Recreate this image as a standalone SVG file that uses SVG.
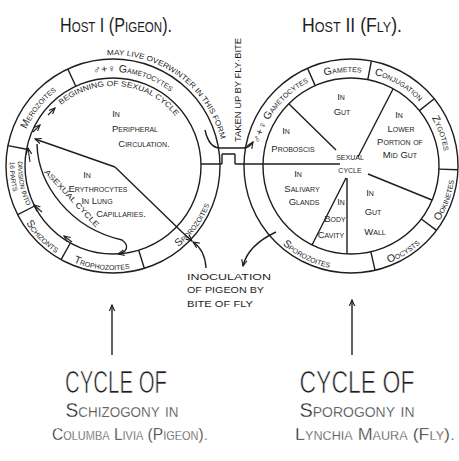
<svg xmlns="http://www.w3.org/2000/svg" width="459" height="461" viewBox="0 0 459 461">
<defs>
<style>
.ln{fill:none;stroke:#1e1e1e;stroke-width:1.4}
.th{fill:none;stroke:#1e1e1e;stroke-width:1.1}
text{font-family:"Liberation Sans",Arial,sans-serif;fill:#1e1e1e}
.sc{font-variant:small-caps}
.ring{font-size:10.5px;font-variant:small-caps}
.lab{font-size:9.5px;font-variant:small-caps;text-anchor:middle}
.big{font-size:31px;text-anchor:middle}
.thin{stroke:#fff;stroke-width:0.7px}
.thin2{stroke:#fff;stroke-width:0.35px}
</style>
<marker id="ah" viewBox="0 0 10 10" refX="9" refY="5" markerWidth="7" markerHeight="7" orient="auto" markerUnits="userSpaceOnUse">
<path d="M0,1 L9,5 L0,9" fill="none" stroke="#1e1e1e" stroke-width="1.6"/>
</marker>
<path id="pMero" d="M 20.4 149.7 A 94 94 0 0 1 74.8 80.1"/>
<path id="pGamL" d="M 73.3 80.8 A 94 94 0 0 1 186.0 106.8"/>
<path id="pWint" d="M 97.5 56.1 A 111 111 0 0 1 222.6 148.6"/>
<path id="pBeg" d="M 56.4 109.4 A 80 80 0 0 1 179.3 121.3"/>
<path id="pDiv1" d="M 21.2 141.4 A 95 95 0 0 0 37.1 223.2"/>
<path id="pDiv2" d="M 16.2 130.8 A 103 103 0 0 0 25.7 220.6"/>
<path id="pSchi" d="M 15.3 201.6 A 104 104 0 0 0 77.4 263.7"/>
<path id="pTrop" d="M 61 256.1 A 104 104 0 0 0 143.4 265.5"/>
<path id="pSpoL" d="M 148.6 263.7 A 104 104 0 0 0 216.9 171.4"/>
<path id="pGamR" d="M 258.4 149.7 A 94 94 0 0 1 314.3 79.5"/>
<path id="pGmts" d="M 314.3 79.5 A 94 94 0 0 1 372.1 74.4"/>
<path id="pConj" d="M 367.3 73.4 A 94 94 0 0 1 424.0 106.8"/>
<path id="pZyg" d="M 425.1 108.1 A 94 94 0 0 1 444.9 162.7"/>
<path id="pOok" d="M 433.0 230.0 A 104 104 0 0 0 454.9 169.6"/>
<path id="pOoc" d="M 374.4 267.3 A 104 104 0 0 0 430.7 232.9"/>
<path id="pSpoR" d="M 260.9 218 A 104 104 0 0 0 363.7 269.2"/>
</defs>
<rect width="459" height="461" fill="#fff"/>

<g id="title-host1"><text x="116" y="32" class="sc" font-size="21" text-anchor="middle" textLength="112" lengthAdjust="spacingAndGlyphs">Host I (Pigeon).</text></g>
<g id="title-host2"><text x="352" y="32" class="sc" font-size="21" text-anchor="middle" textLength="100" lengthAdjust="spacingAndGlyphs">Host II (Fly).</text></g>

<g id="host1-circle">
<circle cx="113" cy="166" r="107" class="ln"/>
<circle cx="113" cy="166" r="88" class="ln"/>
<path class="ln" d="M26.6 149.2 L8 145.6 M75.8 86.2 L67.8 69 M34.6 206 L17.7 214.6 M70.3 243 L61.1 259.6 M138.7 250.2 L144.3 268.3"/>
</g>
<g id="merozoites"><text class="ring"><textPath href="#pMero" startOffset="50%" text-anchor="middle">Merozoites</textPath></text></g>
<g id="gametocytes-1"><text class="ring"><textPath href="#pGamL" startOffset="50%" text-anchor="middle">♂+♀ Gametocytes</textPath></text></g>
<g id="overwinter"><text font-size="7.5"><textPath href="#pWint" startOffset="50%" text-anchor="middle" textLength="153" lengthAdjust="spacingAndGlyphs">MAY LIVE OVERWINTER IN THIS FORM</textPath></text></g>
<g id="beginning"><text font-size="7.5"><textPath href="#pBeg" startOffset="50%" text-anchor="middle" textLength="128" lengthAdjust="spacingAndGlyphs">BEGINNING OF SEXUAL CYCLE</textPath></text></g>
<g id="division"><text font-size="6.5"><textPath href="#pDiv1" startOffset="50%" text-anchor="middle">DIVISION INTO</textPath></text><text font-size="6.5"><textPath href="#pDiv2" startOffset="50%" text-anchor="middle">16 PARTS</textPath></text></g>
<g id="schizonts"><text class="ring" font-size="9.5"><textPath href="#pSchi" startOffset="50%" text-anchor="middle">Schizonts</textPath></text></g>
<g id="trophozoites"><text class="ring"><textPath href="#pTrop" startOffset="50%" text-anchor="middle">Trophozoites</textPath></text></g>
<g id="sporozoites-1"><text class="ring"><textPath href="#pSpoL" startOffset="50%" text-anchor="middle">Sporozoites</textPath></text></g>
<g id="peripheral"><text class="lab" x="116" y="117">In</text><text class="lab" x="135" y="132">Peripheral</text><text class="lab" x="144" y="147">Circulation.</text></g>
<g id="erythrocytes"><text class="lab" x="87" y="178">In</text><text class="lab" x="98" y="192">Erythrocytes</text><text class="lab" x="97" y="204">In Lung</text><text class="lab" x="121" y="217">Capillaries.</text></g>
<g id="asexual"><text font-size="7.5" transform="translate(70 200) rotate(47)" text-anchor="middle" textLength="76" lengthAdjust="spacingAndGlyphs">ASEXUAL CYCLE</text></g>

<g id="host2-circle">
<circle cx="351" cy="166" r="107" class="ln"/>
<circle cx="351" cy="166" r="88" class="ln"/>
<path class="ln" d="M315.2 85.6 L307.5 68.3 M367.8 79.6 L371.4 61 M419.4 110.6 L434.2 98.7 M438.9 169.1 L457.9 169.7 M421.3 219 L436.5 230.4 M370.8 251.7 L375.1 270.3"/>
<path class="ln" d="M289 104 L336 150 M393 89 L358 157 M368 174 L432 200 M347 178 L347 254 M346 178 L312 245"/>
</g>
<g id="gametocytes-2"><text class="ring"><textPath href="#pGamR" startOffset="50%" text-anchor="middle">♂+♀ Gametocytes</textPath></text></g>
<g id="gametes"><text class="ring"><textPath href="#pGmts" startOffset="50%" text-anchor="middle">Gametes</textPath></text></g>
<g id="conjugation"><text class="ring"><textPath href="#pConj" startOffset="50%" text-anchor="middle">Conjugation</textPath></text></g>
<g id="zygotes"><text class="ring"><textPath href="#pZyg" startOffset="50%" text-anchor="middle">Zygotes</textPath></text></g>
<g id="ookinetes"><text class="ring"><textPath href="#pOok" startOffset="50%" text-anchor="middle">Ookinetes</textPath></text></g>
<g id="oocysts"><text class="ring"><textPath href="#pOoc" startOffset="50%" text-anchor="middle">Oocysts</textPath></text></g>
<g id="sporozoites-2"><text class="ring"><textPath href="#pSpoR" startOffset="50%" text-anchor="middle">Sporozoites</textPath></text></g>
<g id="in-gut"><text class="lab" x="341" y="100">In</text><text class="lab" x="342" y="115" font-size="11">Gut</text></g>
<g id="lower-mid-gut"><text class="lab" x="399" y="118" font-size="8.5">In</text><text class="lab" x="401" y="132" font-size="8.5">Lower</text><text class="lab" x="400" y="145" font-size="8.5">Portion of</text><text class="lab" x="400" y="158" font-size="8.5">Mid Gut</text></g>
<g id="proboscis"><text class="lab" x="286" y="134">In</text><text class="lab" x="293" y="152">Proboscis</text></g>
<g id="sexual-cycle"><text font-size="7" x="350" y="160" text-anchor="middle">SEXUAL</text><text font-size="7" x="350" y="173" text-anchor="middle">CYCLE</text></g>
<g id="salivary"><text class="lab" x="298" y="177">In</text><text class="lab" x="302" y="192" font-size="12">Salivary</text><text class="lab" x="304" y="205">Glands</text></g>
<g id="body-cavity"><text class="lab" x="341" y="205" font-size="8">In</text><text class="lab" x="335" y="222" font-size="7">Body</text><text class="lab" x="331" y="238" font-size="8">Cavity</text></g>
<g id="gut-wall"><text class="lab" x="370" y="196">In</text><text class="lab" x="373" y="215" font-size="12">Gut</text><text class="lab" x="375" y="235" font-size="13">Wall</text></g>

<g id="bridge">
<path class="ln" d="M201 164 L222 164 M222 154 L222 164 M235 154 L235 164 M222 154 L235 154"/>
<text font-size="9" transform="translate(241 90) rotate(-90)" text-anchor="middle" textLength="104" lengthAdjust="spacingAndGlyphs">TAKEN UP BY FLY·BITE</text>
</g>

<g id="inoculation"><text font-size="9" x="187" y="280" textLength="84" lengthAdjust="spacingAndGlyphs">INOCULATION</text><text font-size="9" x="187" y="293" textLength="77" lengthAdjust="spacingAndGlyphs">OF PIGEON BY</text><text font-size="9" x="187" y="307" textLength="66" lengthAdjust="spacingAndGlyphs">BITE OF FLY</text></g>

<g id="caption-schizogony"><text class="big thin" x="116" y="393" textLength="102" lengthAdjust="spacingAndGlyphs">CYCLE OF</text><text x="122" y="417" font-size="20" class="sc thin2" text-anchor="middle" textLength="113" lengthAdjust="spacingAndGlyphs">Schizogony in</text><text x="130" y="440" font-size="17" class="sc thin2" text-anchor="middle" textLength="156" lengthAdjust="spacingAndGlyphs">Columba Livia (Pigeon).</text></g>
<g id="caption-sporogony"><text class="big thin" x="357" y="393" textLength="115" lengthAdjust="spacingAndGlyphs">CYCLE OF</text><text x="357" y="417" font-size="20" class="sc thin2" text-anchor="middle" textLength="115" lengthAdjust="spacingAndGlyphs">Sporogony in</text><text x="375" y="440" font-size="17" class="sc thin2" text-anchor="middle" textLength="160" lengthAdjust="spacingAndGlyphs">Lynchia Maura (Fly).</text></g>

<g id="connectors">
<path class="ln" d="M115 167 L182 232 L192 241" marker-end="url(#ah)"/>
<path class="ln" d="M115 167 L35 139" marker-end="url(#ah)"/>
<path class="ln" d="M37 144 C 38 185, 70 228, 122 240 C 130 246, 127 252, 118 254" marker-end="url(#ah)"/>
<path class="ln" d="M206 268 Q 205 250 193 242" marker-end="url(#ah)"/>
<path class="ln" d="M276 232 Q 248 245 243 266" marker-end="url(#ah)"/>
<path class="ln" d="M205 130 Q 209 148 220 148 L 243 148 Q 249 148 253 142" marker-end="url(#ah)"/>
<path class="ln" d="M235 164 L 340 164"/>
<path class="th" d="M72 242 L64 236" marker-end="url(#ah)"/>
<path class="th" d="M42 212 L34 205" marker-end="url(#ah)"/>
<path class="th" d="M30 162 L28 148" marker-end="url(#ah)"/>
<path class="th" d="M33 132 L40 125" marker-end="url(#ah)"/>
<path class="th" d="M48 115 L55 108" marker-end="url(#ah)"/>
<path class="ln" d="M112 355 L112 305" marker-end="url(#ah)"/>
<path class="ln" d="M352 355 L352 300" marker-end="url(#ah)"/>
</g>
</svg>
